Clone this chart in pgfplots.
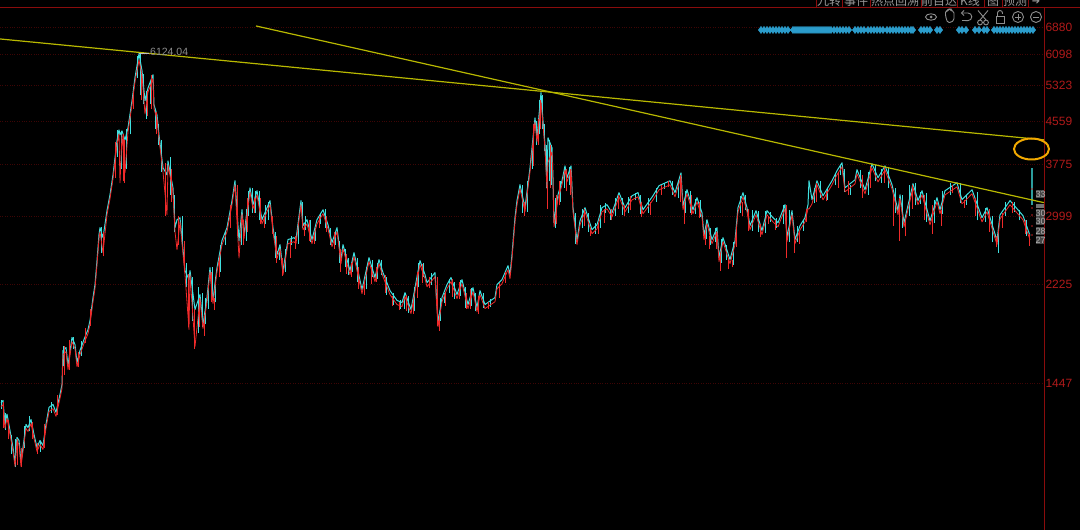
\documentclass[border=0pt]{standalone}
\usepackage{fontspec}
\usepackage{pgfplots}
\usepackage{pgfplotstable}
\pgfplotsset{compat=1.18}
\setmainfont{Liberation Sans}
\newfontfamily\cjk{Noto Sans CJK SC}
\newfontfamily\dv{DejaVu Sans}
\definecolor{upred}{HTML}{F02A2A}
\definecolor{downc}{HTML}{3FE0E0}
\definecolor{axred}{HTML}{8A0C0C}
\definecolor{lab}{HTML}{B01A1A}
\definecolor{gridr}{HTML}{3E0505}
\definecolor{trend}{HTML}{B8B800}
\definecolor{blued}{HTML}{2B9CCB}
\definecolor{ico}{HTML}{8E8E8E}
\pgfplotstableread{
x hi lo
1 1328 1304
3 1340 1316
5 1207 1186
7 1262 1239
10 1175 1155
13 1090 1072
15 1022 1004
17 1140 1120
19 1125 1105
21 1022 1004
23 1090 1072
26 1207 1186
28 1190 1170
31 1233 1211
34 1155 1135
37 1090 1072
40 1125 1105
43 1100 1081
46 1207 1186
49 1300 1277
53 1317 1293
56 1272 1250
60 1376 1352
62 1438 1412
63 1668 1638
66 1690 1660
68 1562 1534
72 1766 1734
75 1712 1682
77 1582 1553
80 1668 1638
84 1750 1720
88 1828 1796
90 1902 1868
93 2102 2066
95 2226 2187
97 2473 2430
99 2771 2722
100 2857 2806
103 2734 2560
107 3078 3023
110 3300 3243
113 3600 3538
117 4180 4105
119 4384 4310
120 4290 3476
122 4365 4290
125 4196 3633
128 4425 4345
132 4980 4892
135 5510 5410
139 6124 5950
142 5680 5577
145 4980 4700
148 5270 5175
153 5580 5480
154 4892 4805
157 4680 4600
159 4290 4213
163 3714 3648
167 3600 3023
168 3826 3760
173 3400 3342
175 2857 2806
177 2957 2594
180 2983 2931
185 2367 2325
189 2275 1828
190 2367 2325
195 1995 1697
200 2131 2093
203 1868 1836
207 2104 2064
210 2397 2355
213 2084 2048
217 2397 2355
222 2700 2650
227 2857 2806
232 3215 3160
235 3508 3447
239 2700 2500
242 3090 3037
244 2771 2722
250 3400 3342
253 3160 3103
257 3358 3298
262 2958 2904
270 3215 3160
273 2857 2806
277 2538 2493
280 2652 2604
283 2367 2325
288 2711 2663
294 2734 2686
296 2711 2663
301 3215 3160
303 2882 2830
307 2958 2904
312 2711 2663
317 2958 2904
323 3090 3037
328 2894 2842
332 2676 2628
337 2857 2806
341 2483 2439
343 2652 2604
350 2367 2325
354 2561 2515
362 2178 2139
369 2505 2461
375 2296 2255
379 2483 2439
383 2346 2304
390 2168 2130
397 2077 2040
402 2058 2022
405 2149 2111
411 1996 1960
420 2473 2429
425 2326 2284
427 2245 2205
435 2346 2304
438 1885 1851
442 2103 2065
447 2226 2186
451 2296 2255
457 2131 2093
462 2275 2235
468 2040 2004
473 2197 2157
477 2013 1977
480 2168 2130
485 2040 2004
495 2103 2065
497 2226 2186
502 2275 2235
508 2419 2375
510 2326 2284
512 2539 2493
515 2984 2930
517 3216 3158
520 3448 3386
525 3118 3062
530 3713 3647
535 4621 4539
537 4234 4158
541 5160 4950
543 4561 4479
545 4107 4033
547 3448 3386
548 4234 3800
552 4053 3981
553 3555 3491
554 2919 2867
558 3299 3241
562 3508 3446
565 3745 3679
567 3555 3491
571 3745 3679
573 3118 3062
577 2699 2651
580 2944 2892
585 3118 3062
592 2831 2781
597 2894 2842
602 3118 3062
607 3159 3103
612 3049 2995
619 3330 3270
625 3118 3062
632 3285 3227
638 3330 3270
643 3090 3036
653 3285 3227
659 3433 3371
670 3508 3446
675 3330 3270
681 3632 3568
683 3145 3089
687 3373 3313
693 3090 3036
697 3257 3199
702 3049 2995
704 2759 2709
707 2957 2905
712 2711 2663
717 2856 2806
719 2505 2461
723 2734 2686
730 2483 2439
735 2699 2651
738 3118 3062
743 3330 3270
747 3118 3062
750 2882 2830
756 3077 3023
762 2820 2770
767 3077 3023
773 2984 2930
778 2919 2867
785 3159 3103
787 2734 2686
792 3077 3023
795 2711 2663
800 2882 2830
805 2984 2930
808 3159 3103
809 3508 3100
812 3229 3171
817 3508 3446
823 3285 3227
832 3508 3446
837 3666 3600
842 3796 3728
845 3402 3342
855 3523 3461
857 3683 3617
865 3373 3313
872 3779 3711
878 3555 3491
885 3745 3679
892 3448 3386
898 3077 3023
900 3299 3241
904 2919 2867
913 3463 3401
918 3216 3158
922 3358 3298
930 2944 2892
937 3257 3199
940 3090 3036
945 3358 3298
957 3478 3416
962 3229 3171
972 3373 3313
982 2984 2930
987 3118 3062
997 2699 2651
1000 3022 2968
1010 3216 3158
1023 3010 2956
1030 2759 2709
}\trace
\pgfplotstableread{
x hi lo
2 1345 1290
6 1270 1180
12 1150 1060
16 1130 1000
25 1200 1090
30 1250 1170
41 1120 1070
52 1330 1270
64 1700 1560
74 1770 1680
82 1740 1630
102 2860 2560
118 4380 3900
121 4360 3700
126 4400 3700
130 4700 4300
137 6050 5500
140 6100 5100
143 5600 4900
146 5200 4600
150 5400 4900
155 4800 4400
158 4500 4100
161 4200 3650
170 3900 3300
174 3300 2800
182 3000 2700
186 2450 2200
192 2300 1900
198 2200 1800
202 2150 1850
205 2100 1870
208 2250 2000
212 2400 2100
215 2300 2060
220 2650 2350
225 2800 2650
241 3000 2650
246 3100 2700
248 3350 3000
252 3400 3050
255 3350 3050
259 3350 2950
265 3150 2900
268 3200 2950
275 2800 2500
279 2650 2480
285 2600 2350
291 2750 2650
298 2950 2660
302 3200 2850
305 3000 2830
310 2950 2680
315 2850 2700
320 3050 2900
325 3100 2850
330 2850 2650
335 2800 2650
339 2700 2450
345 2600 2400
348 2500 2320
352 2500 2350
357 2500 2250
366 2400 2180
372 2480 2300
377 2450 2280
381 2480 2320
386 2300 2130
393 2150 2040
400 2080 2000
404 2130 2000
408 2120 1970
414 2200 1980
418 2450 2200
423 2450 2300
431 2340 2220
440 2100 1900
444 2150 2050
449 2280 2150
454 2250 2090
460 2270 2120
465 2200 2010
471 2190 2030
475 2150 1980
483 2150 2010
490 2090 2020
522 3450 3050
527 3500 3060
532 4100 3700
536 4550 4100
539 5000 4300
542 5100 4400
544 4500 4000
546 4100 3400
549 4200 3500
551 4100 3450
555 3250 2850
560 3500 3200
564 3700 3400
569 3720 3450
575 3050 2660
582 3100 2850
588 3050 2800
595 2920 2780
600 3150 2850
605 3180 3040
610 3080 2960
615 3250 3000
622 3250 3020
628 3270 3050
635 3330 3220
640 3300 3030
648 3250 3050
656 3400 3200
664 3480 3380
672 3500 3300
678 3500 3250
685 3350 3050
690 3350 3050
695 3240 3030
700 3220 2990
706 2950 2720
710 2850 2650
715 2850 2680
721 2720 2450
726 2650 2480
733 2680 2430
740 3280 3050
745 3300 3080
752 3080 2820
758 3070 2800
765 3070 2790
770 3060 2930
776 2980 2850
783 3150 2900
789 3080 2680
797 2880 2680
803 2950 2820
814 3400 3180
820 3500 3250
827 3400 3230
835 3620 3440
840 3760 3600
844 3700 3340
850 3450 3300
860 3680 3400
868 3650 3300
875 3760 3500
881 3700 3480
888 3720 3400
895 3400 3050
902 3290 2850
909 3450 3000
915 3470 3150
920 3340 3170
926 3330 2930
934 3220 2920
942 3350 3030
950 3470 3300
960 3470 3180
966 3300 3160
977 3340 2950
985 3110 2930
992 3000 2680
998 2880 2560
1005 3200 3000
1014 3200 3060
1019 3080 2950
1026 2950 2750
}\cyanbars
\pgfplotstableread{
x hi lo
4 1330 1190
9 1230 1130
18 1130 1010
22 1090 1000
33 1220 1130
38 1110 1060
45 1210 1090
58 1370 1260
65 1700 1500
70 1750 1530
79 1660 1550
86 1840 1720
91 2000 1860
104 2800 2520
116 4150 3550
123 4300 3500
124 4200 3480
133 5100 4800
141 5600 5000
147 5200 4650
151 5580 4800
156 4750 4300
165 3800 3000
171 3700 3200
178 3000 2650
184 2700 2350
188 2330 1850
194 2000 1680
199 2100 1850
204 1950 1780
211 2350 2060
214 2100 1990
219 2500 2300
230 3150 2850
237 3450 2750
243 2950 2650
247 3250 2800
254 3250 3050
260 3250 2900
264 3000 2850
272 3000 2780
276 2750 2450
282 2500 2310
290 2720 2500
295 2760 2600
304 2900 2750
309 2950 2700
314 2800 2660
319 3000 2850
326 3000 2800
334 2800 2600
340 2600 2350
346 2550 2330
351 2450 2300
358 2400 2180
364 2250 2130
371 2400 2230
376 2400 2250
385 2320 2150
392 2120 2030
399 2060 1990
406 2130 1980
413 2100 1960
417 2350 2100
422 2440 2240
429 2300 2190
437 2300 1860
439 1950 1820
445 2150 2030
452 2280 2110
459 2250 2090
466 2150 2000
470 2180 2000
478 2120 1960
488 2060 2000
499 2240 2100
505 2350 2240
524 3200 3000
533 4500 3750
538 4600 4100
540 5000 4400
547 3450 3100
550 4100 3400
556 3300 2900
559 3500 3150
566 3700 3350
570 3700 3300
584 3100 2880
590 2850 2760
598 2900 2780
604 3100 2920
611 3100 2950
618 3300 3100
624 3150 3010
630 3280 3080
641 3200 2990
650 3200 3020
661 3450 3300
668 3500 3420
680 3600 3200
684 3200 2900
691 3300 3020
699 3200 2980
705 2800 2650
709 2750 2600
716 2800 2600
720 2550 2360
728 2500 2380
732 2480 2400
736 2850 2630
742 3200 3000
748 3100 2820
760 2900 2740
768 3000 2900
775 2950 2830
786 3150 2500
794 2750 2560
799 2800 2660
806 3100 2930
816 3480 3200
826 3350 3210
838 3650 3400
848 3500 3300
862 3600 3250
870 3750 3400
884 3720 3480
893 3300 2880
899 3250 2700
905 2950 2750
912 3450 3100
924 3300 2950
932 3150 2780
941 3080 2880
952 3450 3320
964 3220 3120
975 3250 3000
989 3100 2800
996 2750 2620
1002 3050 2850
1012 3200 3050
1025 2950 2780
1029 2780 2640
}\redbars
\pgfplotstableread{
x hi lo
1032 3712 3159
}\last
\begin{document}
\begin{tikzpicture}[x=1pt,y=1pt]
\useasboundingbox (0,0) rectangle (1080,530);
\clip (0,0) rectangle (1080,530);
\fill[black] (0,0) rectangle (1080,530);
\begin{axis}[
  at={(0pt,0pt)},anchor=south west,
  scale only axis,width=1044pt,height=522pt,
  xmin=0,xmax=1044,ymode=log,ymin=760,ymax=7477,
  clip=true,
  axis line style={draw=axred,line width=1pt},
  axis x line=none,
  axis y line*=right,
  ytick={1447,2225,2999,3775,4559,5323,6098,6880},
  yticklabels={1447,2225,2999,3775,4559,5323,6098,6880},
  minor ytick={},
  log basis y=10,
  ymajorgrids,
  major grid style={gridr,dotted,line width=0.8pt},
  major tick length=0pt,
  minor tick length=0pt,
  tick label style={font=\fontsize{12}{12}\selectfont,text=lab},
  yticklabel style={anchor=west,xshift=-2pt},
  error bars/error mark=none,
]
\addplot[downc,line width=1pt,line join=round] table[x=x,y=hi] {\trace};
\addplot[draw=none,forget plot,error bars/.cd,y dir=plus,y explicit,error bar style={downc,line width=1pt}]
  table[x=x,y=lo,y error expr=\thisrow{hi}-\thisrow{lo}] {\cyanbars};
\addplot[upred,line width=0.8pt,line join=round] table[x=x,y=lo] {\trace};
\addplot[draw=none,forget plot,error bars/.cd,y dir=plus,y explicit,error bar style={upred,line width=1pt}]
  table[x=x,y=lo,y error expr=\thisrow{hi}-\thisrow{lo}] {\redbars};
\addplot[draw=none,forget plot,error bars/.cd,y dir=plus,y explicit,error bar style={downc!70!black,line width=1.2pt}]
  table[x=x,y=lo,y error expr=\thisrow{hi}-\thisrow{lo}] {\last};
% trend lines
\addplot[trend,line width=1.2pt] coordinates {(0,6528) (1044,4196)};
\addplot[trend,line width=1.2pt] coordinates {(256,6910) (1044,3187)};
% event markers
\addplot[only marks,mark=diamond*,mark size=3.6pt,blued,mark options={draw=blued,fill=blued}] coordinates {
(761,6790)(764,6790)(767,6790)(770,6790)(773,6790)(776,6790)(779,6790)(782,6790)(785,6790)(788,6790)
(793,6790)(795,6790)(797,6790)(799,6790)(801,6790)(803,6790)(805,6790)(807,6790)(809,6790)(811,6790)(813,6790)(815,6790)(817,6790)(819,6790)(821,6790)(823,6790)(825,6790)(827,6790)(829,6790)(831,6790)
(834,6790)(837,6790)(840,6790)(843,6790)(846,6790)(849,6790)
(855,6790)(858,6790)(861,6790)(864,6790)
(868,6790)(871,6790)(874,6790)(877,6790)(880,6790)(883,6790)
(887,6790)(890,6790)(893,6790)(896,6790)(899,6790)(902,6790)(905,6790)(908,6790)(911,6790)(913,6790)
(921,6790)(924,6790)(927,6790)(930,6790)(937,6790)(940,6790)
(959,6790)(962,6790)(966,6790)
(975,6790)(979,6790)(984,6790)(987,6790)
(994,6790)(997,6790)(1000,6790)(1003,6790)(1006,6790)(1009,6790)(1012,6790)(1015,6790)(1018,6790)(1021,6790)(1024,6790)(1027,6790)(1030,6790)(1033,6790)
};
\node[anchor=west,inner sep=0pt,text=ico,font=\fontsize{10.5}{11}\selectfont] at (axis cs:150,6180) {6124.04};
\draw[white!75!black,line width=0.8pt] (axis cs:139,6140) -- (axis cs:149,6140);
\end{axis}
\draw[color={rgb,255:red,242;green,169;blue,0},line width=2pt] (1031.5,381) ellipse [x radius=17.5,y radius=10.5];
% right-edge price flags
\foreach \py/\t in {194/33,213/30,221/30,231/28,240/27}{
  \fill[black!72] (1036,530-\py-4) rectangle (1044,530-\py+4);
  \node[text=black!30,font=\fontsize{9}{9}\selectfont,inner sep=0pt,anchor=west] at (1035.5,530-\py) {\t};
}
\fill[black!55] (1036,530-208) rectangle (1044,530-204);
\foreach \py in {189,208,215,226,235}{\fill[upred!80!black] (1032,530-\py) circle (0.9pt);}
% header
\draw[axred,line width=1pt] (0,522) -- (1080,522);
\foreach \x in {816,842,870,921,957,984,1002,1028}{\draw[axred,line width=1pt] (\x,522) -- (\x,530);}
\foreach \x/\t in {829/九转,856/事件,895/热点回溯,939/前目达,970/K线,993/图,1015/预测}{
  \node[text=black!40!white,font=\cjk\fontsize{12}{12}\selectfont,inner sep=0pt] at (\x,529) {\t};
}
\node[text=black!40!white,font=\dv\fontsize{10}{10}\selectfont,inner sep=0pt] at (1036,528) {➔};
% toolbar icons
\begin{scope}[draw=ico,line width=0.9pt]
\draw (931,513) ellipse (5.5 and 3.2); \fill[ico] (931,513) circle (1.5);
\draw[rounded corners=1.5] (945.5,514) -- (945.5,519) -- (948,519) -- (948,521) -- (951,521) -- (951,519.5) -- (954,518.5) -- (954,510) -- (951,507.5) -- (947.5,507.5) -- cycle;
\draw (962,517) -- (968,517) arc (90:-90:3.8) -- (962,509.5); \draw (964,519.5) -- (961.5,517) -- (964,514.5);
\draw (978,519.5) -- (986,510); \draw (988,519.5) -- (980,510); \draw (980,507.5) circle (2.4); \draw (986,507.5) circle (2.4);
\draw (996,507) rectangle (1004,514); \draw (997.5,514) -- (997.5,517) arc (180:0:2.5) -- (1002.5,516);
\draw (1018,513) circle (5.5); \draw (1015,513) -- (1021,513); \draw (1018,510) -- (1018,516);
\draw (1036,513) circle (5.5); \draw (1033,513) -- (1039,513);
\end{scope}
\end{tikzpicture}
\end{document}
